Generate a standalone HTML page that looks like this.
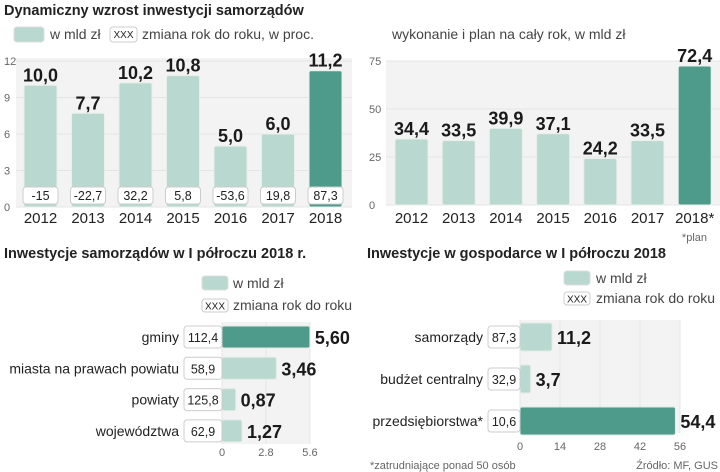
<!DOCTYPE html>
<html><head><meta charset="utf-8"><style>
body{margin:0;background:#fff;}
svg{display:block;font-family:"Liberation Sans","DejaVu Sans",sans-serif;}
.t{font-weight:bold;font-size:14.5px;fill:#222;}
.lg{font-size:14px;fill:#444;}
.ax{font-size:11px;fill:#666;}
.yr{font-size:15px;fill:#222;}
.val{font-weight:bold;font-size:18px;fill:#1a1a1a;}
.bx{font-size:12.5px;fill:#222;}
.cat{font-size:14px;fill:#222;}
</style></head><body>
<svg id="c" width="720" height="472" viewBox="0 0 720 472">
<text class="t" x="4" y="15">Dynamiczny wzrost inwestycji samorządów</text>
<rect x="14" y="27" width="30" height="15" rx="3" fill="#b9d8cf" stroke="#ddd"/>
<text class="lg" x="50" y="39">w mld zł</text>
<rect x="110" y="27" width="27" height="15" rx="3" fill="#fff" stroke="#ccc"/>
<text x="123.5" y="38" font-size="10" text-anchor="middle" fill="#222">XXX</text>
<text class="lg" x="142" y="39">zmiana rok do roku, w proc.</text>
<text class="lg" x="392" y="39">wykonanie i plan na cały rok, w mld zł</text>
<text class="ax" x="707" y="241" text-anchor="end">*plan</text>
<text class="t" x="4" y="258">Inwestycje samorządów w I półroczu 2018 r.</text>
<text class="t" x="367" y="258">Inwestycje w gospodarce w I półroczu 2018</text>
<rect x="202" y="276" width="26" height="14" rx="3" fill="#b9d8cf" stroke="#ddd"/>
<text class="lg" x="233" y="288">w mld zł</text>
<rect x="202" y="299" width="26" height="13" rx="3" fill="#fff" stroke="#ccc"/>
<text x="215" y="309.5" font-size="10" text-anchor="middle" fill="#222">XXX</text>
<text class="lg" x="233" y="310">zmiana rok do roku</text>
<rect x="564" y="271" width="26" height="14" rx="3" fill="#b9d8cf" stroke="#ddd"/>
<text class="lg" x="596" y="283">w mld zł</text>
<rect x="564" y="292" width="26" height="13" rx="3" fill="#fff" stroke="#ccc"/>
<text x="577" y="302.5" font-size="10" text-anchor="middle" fill="#222">XXX</text>
<text class="lg" x="596" y="303">zmiana rok do roku</text>
<text class="ax" x="370" y="469">*zatrudniające ponad 50 osób</text>
<text class="ax" x="718" y="469" text-anchor="end">Źródło: MF, GUS</text>
<g id="g"></g>
</svg>
<script>
const years1=["2012","2013","2014","2015","2016","2017","2018"];
const vals1=[10.0,7.7,10.2,10.8,5.0,6.0,11.2];
const chg1=["-15","-22,7","32,2","5,8","-53,6","19,8","87,3"];
const ticks1=[0,3,6,9,12];
const years2=["2012","2013","2014","2015","2016","2017","2018*"];
const vals2=[34.4,33.5,39.9,37.1,24.2,33.5,72.4];
const ticks2=[0,25,50,75];
const cats3=["gminy","miasta na prawach powiatu","powiaty","województwa"];
const vals3=[5.60,3.46,0.87,1.27];
const chg3=["112,4","58,9","125,8","62,9"];
const ticks3=[0,2.8,5.6];
const cats4=["samorządy","budżet centralny","przedsiębiorstwa*"];
const vals4=[11.2,3.7,54.4];
const chg4=["87,3","32,9","10,6"];
const ticks4=[0,14,28,42,56];
const NS="http://www.w3.org/2000/svg";
const g=document.getElementById('g');
function el(t,a,txt){const e=document.createElementNS(NS,t);for(const k in a)e.setAttribute(k,a[k]);if(txt!==undefined)e.textContent=txt;g.appendChild(e);return e;}
const fmt=(v,d)=>v.toFixed(d).replace('.',',');
const L="#b9d8cf",D="#4e9a8b";
// chart1
{const y=v=>207-v*12.17,x=i=>24+i*47.5,w=33;
let p=el('rect',{x:16,y:58,width:336,height:149,fill:'#f3f3f3'});


ticks1.forEach(t=>{let l=el('line',{x1:16,x2:352,y1:y(t),y2:y(t),stroke:'#e4e4e4'});


let tx=el('text',{class:'ax',x:4,y:y(t)+4},String(t));

});
vals1.forEach((v,i)=>{const last=i===vals1.length-1;
let b=el('rect',{x:x(i),y:y(v),width:w,height:y(0)-y(v),rx:2,fill:last?D:L,stroke:'#e8efe9'});


let t=el('text',{class:'val',x:x(i)+w/2,y:y(v)-4,'text-anchor':'middle'},fmt(v,1));


let bx=el('rect',{x:x(i)-1,y:187,width:w+2,height:17,rx:3,fill:'#fff',stroke:'#ccc'});


let c=el('text',{class:'bx',x:x(i)+w/2,y:200,'text-anchor':'middle'},chg1[i]);


let yl=el('text',{class:'yr',x:x(i)+w/2,y:223,'text-anchor':'middle'},years1[i]);

});}
// chart2
{const y=v=>205-v*1.92,x=i=>395+i*47.2,w=33;
let p=el('rect',{x:386,y:61,width:334,height:144,fill:'#f3f3f3'});


ticks2.forEach(t=>{let l=el('line',{x1:386,x2:720,y1:y(t),y2:y(t),stroke:'#e4e4e4'});


let tx=el('text',{class:'ax',x:369,y:y(t)+4},String(t));

});
vals2.forEach((v,i)=>{const last=i===vals2.length-1;
let b=el('rect',{x:x(i),y:y(v),width:w,height:y(0)-y(v),rx:2,fill:last?D:L,stroke:'#e8efe9'});


let t=el('text',{class:'val',x:x(i)+w/2,y:y(v)-4,'text-anchor':'middle'},fmt(v,1));


let yl=el('text',{class:'yr',x:x(i)+w/2,y:223,'text-anchor':'middle'},years2[i]);

});}
// chart3
{const x=v=>222+v*15.7,yc=i=>337+i*31.3,h=22;
let p=el('rect',{x:222,y:322,width:88,height:122,fill:'#f3f3f3'});


ticks3.forEach(t=>{let l=el('line',{x1:x(t),x2:x(t),y1:322,y2:444,stroke:'#e4e4e4'});


let tx=el('text',{class:'ax',x:x(t),y:456,'text-anchor':'middle'},String(t));

});
vals3.forEach((v,i)=>{const top=i===0;
let b=el('rect',{x:x(0),y:yc(i)-h/2,width:x(v)-x(0),height:h,rx:2,fill:top?D:L,stroke:'#e0ebe6'});


let t=el('text',{class:'val',x:x(v)+5,y:yc(i)+7},fmt(v,2));


let bx=el('rect',{x:184,y:yc(i)-11,width:38,height:22,rx:3,fill:'#fff',stroke:'#ccc'});


let c=el('text',{class:'bx',x:203,y:yc(i)+5,'text-anchor':'middle'},chg3[i]);


let cl=el('text',{class:'cat',x:179,y:yc(i)+5,'text-anchor':'end'},cats3[i]);

});}
// chart4
{const x=v=>520+v*2.857,yc=i=>337+i*42,h=28;
let p=el('rect',{x:520,y:320,width:160,height:113,fill:'#f3f3f3'});


ticks4.forEach(t=>{let l=el('line',{x1:x(t),x2:x(t),y1:320,y2:433,stroke:'#e4e4e4'});


let tx=el('text',{class:'ax',x:x(t),y:450,'text-anchor':'middle'},String(t));

});
vals4.forEach((v,i)=>{const big=i===2;
let b=el('rect',{x:x(0),y:yc(i)-h/2,width:x(v)-x(0),height:h,rx:2,fill:big?D:L,stroke:'#e0ebe6'});


let t=el('text',{class:'val',x:x(v)+5,y:yc(i)+7},fmt(v,1));


let bx=el('rect',{x:488,y:yc(i)-11,width:32,height:22,rx:3,fill:'#fff',stroke:'#ccc'});


let c=el('text',{class:'bx',x:504,y:yc(i)+5,'text-anchor':'middle'},chg4[i]);


let cl=el('text',{class:'cat',x:483,y:yc(i)+5,'text-anchor':'end'},cats4[i]);

});}
</script>
</body></html>
